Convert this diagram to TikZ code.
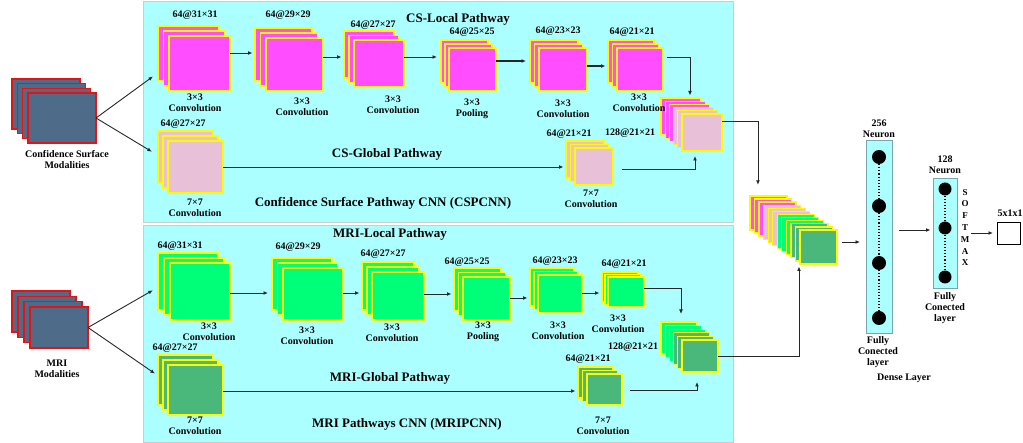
\documentclass[tikz,border=0pt]{standalone}
\usepackage{fontspec}
\setmainfont{Liberation Serif}
\usetikzlibrary{arrows.meta,calc}
\definecolor{panelc}{RGB}{172,255,255}
\definecolor{panelb}{RGB}{200,205,205}
\definecolor{magc}{RGB}{255,77,255}
\definecolor{pinkc}{RGB}{232,192,216}
\definecolor{grnc}{RGB}{0,255,120}
\definecolor{dgrnc}{RGB}{74,184,122}
\definecolor{yelc}{RGB}{255,250,0}
\definecolor{slatec}{RGB}{79,107,138}
\definecolor{redc}{RGB}{228,20,20}
\definecolor{denseb}{RGB}{120,165,175}
\tikzset{
 fm/.style={draw=yelc, line width=1.3pt, inner sep=0pt, outer sep=0pt, anchor=north west, rectangle},
 modl/.style={draw=redc, fill=slatec, line width=1.3pt, inner sep=0pt, outer sep=0pt, anchor=north west, rectangle},
 panel/.style={fill=panelc, draw=panelb, line width=1pt, inner sep=0pt, outer sep=0pt, anchor=north west, rectangle},
 dense/.style={fill=panelc, draw=denseb, line width=1pt, inner sep=0pt, outer sep=0pt, anchor=north west, rectangle},
 neu/.style={circle, fill=black, inner sep=0pt},
 arr/.style={-{Latex[length=4.5pt,width=3.8pt]}, line width=0.9pt, black!85, shorten >=2.5pt},
 lbl/.style={font=\bfseries\fontsize{10}{11}\selectfont, align=center, inner sep=0pt},
 ttl/.style={font=\bfseries\fontsize{13}{15}\selectfont, inner sep=0pt},
}
\newcommand{\fmstack}[9]{%
  \foreach \i/\c in {#9}{%
    \pgfmathsetmacro{\xx}{#2-(#8-\i)*#6}%
    \pgfmathsetmacro{\yy}{#3-(#8-\i)*#7}%
    \node[fm, fill=\c, minimum width=#4pt, minimum height=#5pt] (#1-\i) at (\xx,\yy) {};
  }%
}
\newcommand{\modstack}[8]{%
  \foreach \i in {1,...,#8}{%
    \pgfmathsetmacro{\xx}{#2-(#8-\i)*#6}%
    \pgfmathsetmacro{\yy}{#3-(#8-\i)*#7}%
    \node[modl, minimum width=#4pt, minimum height=#5pt] (#1-\i) at (\xx,\yy) {};
  }%
}
\begin{document}
\begin{tikzpicture}[x=1pt,y=-1pt]
\useasboundingbox (0,0) rectangle (1023,443);
% panels
\node[panel, minimum width=590pt, minimum height=221pt] (ptop) at (143,2) {};
\node[panel, minimum width=590pt, minimum height=217pt] (pbot) at (143,226) {};

% modality stacks
\modstack{cs}{28}{93}{68}{50}{5.33}{4.67}{4}
\modstack{mri}{30}{307}{58}{41}{6}{5.33}{4}
\node[lbl] (lcs) at (67,159.5) {Confidence Surface\\Modalities};
\node[lbl] (lmri) at (57,368.5) {MRI\\Modalities};

% CS local pathway
\fmstack{c1}{169}{36}{61}{55}{5.5}{5}{3}{1/magc,2/magc,3/magc}
\fmstack{c2}{266}{38}{57}{53}{5.5}{5}{3}{1/magc,2/magc,3/magc}
\fmstack{c3}{354}{40}{50}{47}{5}{4.5}{3}{1/magc,2/magc,3/magc}
\fmstack{c4}{449}{48}{47}{43}{4}{4}{3}{1/magc,2/magc,3/magc}
\fmstack{c5}{539}{48}{48}{43}{4.5}{4}{3}{1/magc,2/magc,3/magc}
\fmstack{c6}{617}{48}{46}{43}{4.5}{4}{3}{1/magc,2/magc,3/magc}
\fmstack{cc}{682}{114}{40}{37}{4.2}{3.2}{6}{1/magc,2/magc,3/magc,4/pinkc,5/pinkc,6/pinkc}
% CS global pathway
\fmstack{g1}{168}{141}{55}{52}{5}{5}{3}{1/pinkc,2/pinkc,3/pinkc}
\fmstack{g2}{575}{148}{38}{37}{4.5}{3.5}{3}{1/pinkc,2/pinkc,3/pinkc}

% MRI local pathway
\fmstack{m1}{170}{263}{60}{57}{6}{5}{3}{1/grnc,2/grnc,3/grnc}
\fmstack{m2}{283}{268}{60}{52}{5.5}{5}{3}{1/grnc,2/grnc,3/grnc}
\fmstack{m3}{372}{272}{52}{48}{5}{5}{3}{1/grnc,2/grnc,3/grnc}
\fmstack{m4}{463}{277}{47}{43}{4.5}{4.5}{3}{1/grnc,2/grnc,3/grnc}
\fmstack{m5}{538}{275}{44}{38}{4}{3.5}{3}{1/grnc,2/grnc,3/grnc}
\fmstack{m6}{608}{277}{36}{30}{3}{2.5}{3}{1/grnc,2/grnc,3/grnc}
\fmstack{mc}{682}{340}{36}{32}{4.2}{3.6}{6}{1/grnc,2/grnc,3/grnc,4/dgrnc,5/dgrnc,6/dgrnc}
% MRI global pathway
\fmstack{mg1}{168}{365}{55}{50}{5}{5}{3}{1/dgrnc,2/dgrnc,3/dgrnc}
\fmstack{mg2}{587}{374}{35}{31}{4.5}{3.5}{3}{1/dgrnc,2/dgrnc,3/dgrnc}

% merged stack
\fmstack{big}{800}{230}{37}{34}{4.55}{3.1}{12}{1/magc,2/magc,3/magc,4/pinkc,5/pinkc,6/pinkc,7/grnc,8/grnc,9/grnc,10/dgrnc,11/dgrnc,12/dgrnc}

% labels top panel
\node[lbl] (a1) at (195,15) {64@31×31};
\node[lbl] (b1) at (195,102.5) {3×3\\Convolution};
\node[lbl] (a2) at (288,15) {64@29×29};
\node[lbl] (b2) at (302,106.5) {3×3\\Convolution};
\node[lbl] (a3) at (373,25) {64@27×27};
\node[lbl] (b3) at (393,105) {3×3\\Convolution};
\node[ttl] (tcsl) at (458,19) {CS-Local Pathway};
\node[lbl] (a4) at (472,32) {64@25×25};
\node[lbl] (b4) at (472,108.5) {3×3\\Pooling};
\node[lbl] (a5) at (558,31) {64@23×23};
\node[lbl] (b5) at (563,108.5) {3×3\\Convolution};
\node[lbl] (a6) at (632,32) {64@21×21};
\node[lbl] (b6) at (639,103) {3×3\\Convolution};
\node[lbl] (acc) at (630,133) {128@21×21};
\node[lbl] (ag2) at (569,134) {64@21×21};
\node[lbl] (bg2) at (591,199) {7×7\\Convolution};
\node[lbl] (ag1) at (183,124) {64@27×27};
\node[lbl] (bg1) at (195,207.5) {7×7\\Convolution};
\node[ttl] (tcsg) at (387,154) {CS-Global Pathway};
\node[ttl] (tcsp) at (383,203) {Confidence Surface Pathway CNN (CSPCNN)};

% labels bottom panel
\node[ttl] (tmril) at (390,234) {MRI-Local Pathway};
\node[lbl] (am1) at (180,246) {64@31×31};
\node[lbl] (bm1) at (209,331.5) {3×3\\Convolution};
\node[lbl] (am2) at (298,247) {64@29×29};
\node[lbl] (bm2) at (307,335.5) {3×3\\Convolution};
\node[lbl] (am3) at (383,254) {64@27×27};
\node[lbl] (bm3) at (392,332.5) {3×3\\Convolution};
\node[lbl] (am4) at (467,262) {64@25×25};
\node[lbl] (bm4) at (483,331.5) {3×3\\Pooling};
\node[lbl] (am5) at (555,261) {64@23×23};
\node[lbl] (bm5) at (558,331) {3×3\\Convolution};
\node[lbl] (am6) at (624,264) {64@21×21};
\node[lbl] (bm6) at (618,323.5) {3×3\\Convolution};
\node[lbl] (amc) at (633,347) {128@21×21};
\node[lbl] (amg2) at (588,359) {64@21×21};
\node[lbl] (bmg2) at (603,426) {7×7\\Convolution};
\node[lbl] (amg1) at (175,348) {64@27×27};
\node[lbl] (bmg1) at (195,426) {7×7\\Convolution};
\node[ttl] (tmrig) at (390,378) {MRI-Global Pathway};
\node[ttl] (tmrip) at (407,424) {MRI Pathways CNN (MRIPCNN)};

% dense layers
\node[dense, minimum width=26pt, minimum height=193pt] (d1) at (866,141) {};
\node[neu, minimum size=14pt] (n1) at (879,157) {};
\node[neu, minimum size=14pt] (n2) at (879,206) {};
\node[neu, minimum size=14pt] (n3) at (879,263) {};
\node[neu, minimum size=14pt] (n4) at (879,318) {};
\draw[dotted, line width=1.1pt] (n1) -- (n2) (n2) -- (n3) (n3) -- (n4);
\node[dense, minimum width=24pt, minimum height=110pt] (d2) at (933,179) {};
\node[neu, minimum size=13pt] (k1) at (945,189) {};
\node[neu, minimum size=13pt] (k2) at (945,228) {};
\node[neu, minimum size=13pt] (k3) at (945,277) {};
\draw[dotted, line width=1.1pt] (k1) -- (k2) (k2) -- (k3);
\node[lbl] (l256) at (879,128.5) {256\\Neuron};
\node[lbl] (lfc1) at (878,352) {Fully\\Conected\\layer};
\node[lbl] (ldense) at (904,378) {Dense Layer};
\node[lbl] (l128) at (945,165) {128\\Neuron};
\node[lbl] (lfc2) at (945,308) {Fully\\Conected\\layer};
\node[font=\bfseries\fontsize{9}{11.8}\selectfont, align=center, inner sep=0pt] (smx) at (965,227.5) {S\\O\\F\\T\\M\\A\\X};
\node[draw, fill=white, line width=1.2pt, minimum width=23pt, minimum height=22pt, anchor=north west, inner sep=0pt] (out) at (997,222) {};
\node[lbl] (lout) at (1010,213) {5x1x1};

% connectors: modalities
\coordinate (t1) at (155,75);
\coordinate (t2) at (154,153);
\coordinate (t3) at (155,289);
\coordinate (t4) at (157,375);
\draw[arr] (cs-4.east) -- (t1);
\draw[arr] (cs-4.east) -- (t2);
\draw[arr] (mri-4.east) -- (t3);
\draw[arr] (mri-4.east) -- (t4);

% CS local
\draw[arr] (c1-3.east |- 0,53) -- (c2-1.west |- 0,53);
\draw[arr] (c2-3.east |- 0,57) -- (c3-1.west |- 0,57);
\draw[arr, shorten >=4pt] (c3-3.east |- 0,57) -- (c4-1.west |- 0,57);
\draw[arr, line width=1.2pt, shorten >=4pt] (c4-3.east |- 0,61) -- (c5-1.west |- 0,61);
\draw[arr, line width=1.2pt] (c5-3.east |- 0,66) -- (c6-1.west |- 0,66);
\draw[arr, shorten <=4pt] (c6-3.east |- 0,57) -| ([xshift=9pt]cc-1.north);
% CS global
\draw[arr] (g1-3.east |- 0,167) -- (g2-1.west |- 0,167);
\draw[arr, shorten <=9pt, shorten >=5pt] (g2-3.east |- 0,169) -| ([xshift=-7pt]cc-6.south);

% MRI local
\draw[arr, shorten >=4pt] (m1-3.east |- 0,293) -- (m2-1.west |- 0,293);
\draw[arr] (m2-3.east |- 0,293) -- (m3-1.west |- 0,293);
\draw[arr] (m3-3.east |- 0,294) -- (m4-1.west |- 0,294);
\draw[arr] (m4-3.east |- 0,298) -- (m5-1.west |- 0,298);
\draw[arr] (m5-3.east |- 0,293) -- (m6-1.west |- 0,293);
\draw[arr, shorten >=8pt] (m6-3.east |- 0,288) -| ([xshift=2pt]mc-1.north);
% MRI global
\draw[arr] (mg1-3.east |- 0,391) -- (mg2-1.west |- 0,391);
\draw[arr, shorten <=8pt, shorten >=10pt] (mg2-3.east |- 0,390) -| ([xshift=-3pt]mc-6.south);

% merge and dense
\draw[arr, shorten >=11pt] (cc-6.east |- 0,121) -| ([xshift=-10.5pt]big-1.north);
\draw[arr] (mc-6.east) -| ([xshift=-19.5pt]big-12.south);
\draw[arr, shorten <=5pt, shorten >=6pt] (big-12.east |- 0,242) -- (d1.west |- 0,242);
\draw[arr, shorten <=7pt] (d1.east |- 0,230) -- (d2.west |- 0,230);
\draw[arr, shorten <=14pt, shorten >=4pt] (d2.east |- 0,233) -- (out.west |- 0,233);
\end{tikzpicture}
\end{document}
